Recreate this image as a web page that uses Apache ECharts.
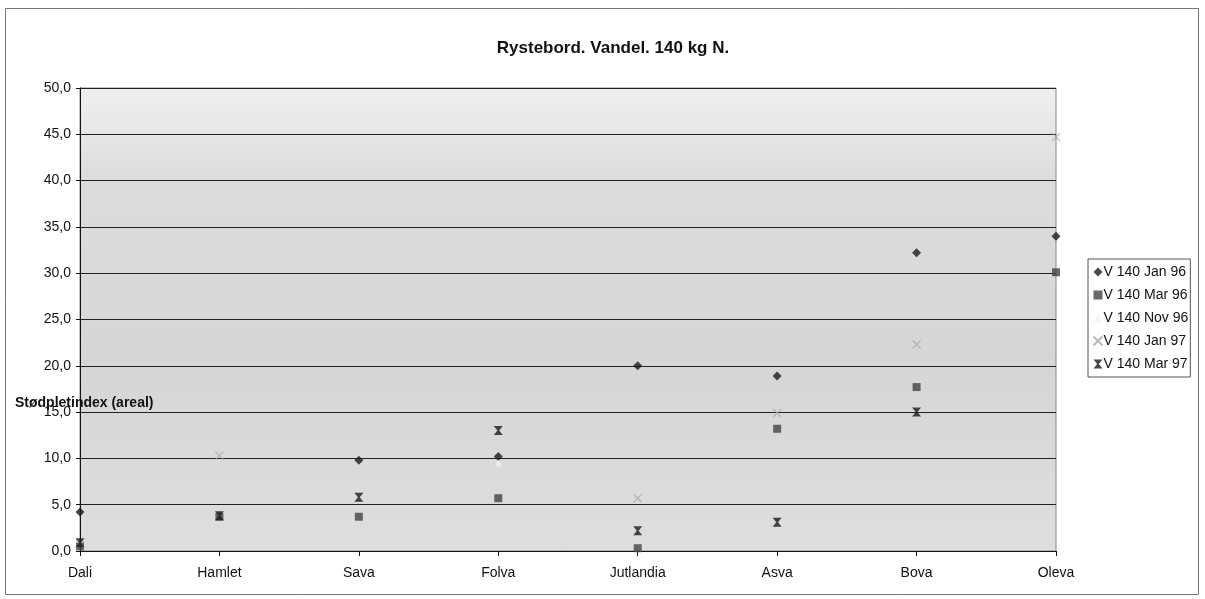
<!DOCTYPE html>
<html><head><meta charset="utf-8">
<script src="https://cdn.jsdelivr.net/npm/echarts@6/dist/echarts.min.js"></script>
<style>html,body{margin:0;padding:0;background:#fff}#c{width:1205px;height:599px}</style>
</head><body><div id="c"></div>
<script>
const categories = ['Dali','Hamlet','Sava','Folva','Jutlandia','Asva','Bova','Oleva'];
const jan96 = [4.2, null, 9.8, 10.2, 20.0, 18.9, 32.2, 34.0];
const mar96 = [0.5, 3.7, 3.7, 5.7, 0.3, 13.2, 17.7, 30.1];
const nov96 = [null, null, null, 9.5, null, null, null, null];
const jan97 = [0.8, 10.3, null, null, 5.7, 14.9, 22.3, 44.7];
const mar97 = [0.9, 3.8, 5.8, 13.0, 2.2, 3.1, 15.0, null];
const yTicks = [0, 5, 10, 15, 20, 25, 30, 35, 40, 45, 50];

const xPath = 'path://M0,0 L10,10 M10,0 L0,10';
const starPath = 'path://M0,0 L10,0 L6,5 L10,10 L0,10 L4,5 Z';
const font = 'Arial, "Liberation Sans", sans-serif';

const chart = echarts.init(document.getElementById('c'));
function mk(name, data, symbol, size, color, extra) {
  return Object.assign({
    name, type: 'scatter', data, symbol, symbolSize: size,
    itemStyle: { color }, emphasis: { disabled: true }
  }, extra || {});
}
chart.setOption({
  animation: false,
  backgroundColor: '#fff',
  title: {
    text: 'Rystebord. Vandel. 140 kg N.', left: 608, top: 35, textAlign: 'center',
    textStyle: { fontFamily: font, fontSize: 17, fontWeight: 'bold', color: '#111' }
  },
  graphic: [
    { type: 'rect', shape: { x: 5.5, y: 8.5, width: 1193, height: 586 }, style: { fill: 'none', stroke: '#777', lineWidth: 1 } },
    { type: 'text', left: 15, top: 396, style: { text: 'Stødpletindex (areal)', font: 'bold 14px ' + font, fill: '#111' } }
  ],
  legend: {
    orient: 'vertical', left: 1088, top: 259, itemGap: 9, itemWidth: 9, itemHeight: 9,
    padding: [6, 2, 6, 3], borderColor: '#555', borderWidth: 1,
    textStyle: { fontFamily: font, fontSize: 14, color: '#111', padding: [0, 0, 0, -4] },
    data: ['V 140 Jan 96', 'V 140 Mar 96', 'V 140 Nov 96', 'V 140 Jan 97', 'V 140 Mar 97']
  },
  grid: {
    left: 80, right: 149, top: 88, bottom: 48, show: true,
    borderColor: '#888', borderWidth: 1,
    backgroundColor: new echarts.graphic.LinearGradient(0, 0, 0, 1, [
      { offset: 0, color: '#f0f0f0' }, { offset: 0.2, color: '#dcdcdc' },
      { offset: 0.6, color: '#d6d6d6' }, { offset: 1, color: '#dedede' }
    ])
  },
  xAxis: {
    type: 'category', data: categories, boundaryGap: false,
    axisLine: { lineStyle: { color: '#111', width: 1 } },
    axisTick: { show: true, inside: false, length: 5, lineStyle: { color: '#111' } },
    axisLabel: { fontFamily: font, fontSize: 14, color: '#111', margin: 15 },
    splitLine: { show: false }
  },
  yAxis: {
    type: 'value', min: 0, max: 50, interval: 5,
    axisLine: { show: true, lineStyle: { color: '#111', width: 1 } },
    axisTick: { show: true, length: 4, lineStyle: { color: '#111' } },
    axisLabel: { fontFamily: font, fontSize: 14, color: '#111', margin: 9,
      formatter: v => yTicks.includes(v) ? v.toFixed(1).replace('.', ',') : '' },
    splitLine: { show: true, lineStyle: { color: '#222', width: 1 } }
  },
  series: [
    mk('V 140 Jan 96', jan96, 'diamond', 9, '#1a1a1a'),
    mk('V 140 Mar 96', mar96, 'rect', 8, '#444'),
    mk('V 140 Nov 96', nov96, 'triangle', 7, '#f2f2f2'),
    mk('V 140 Jan 97', jan97, xPath, 8, '#bbb', { itemStyle: { color: 'none', borderColor: '#aaa', borderWidth: 1.2 } }),
    mk('V 140 Mar 97', mar97, starPath, 9, '#1a1a1a')
  ]
});
</script></body></html>
